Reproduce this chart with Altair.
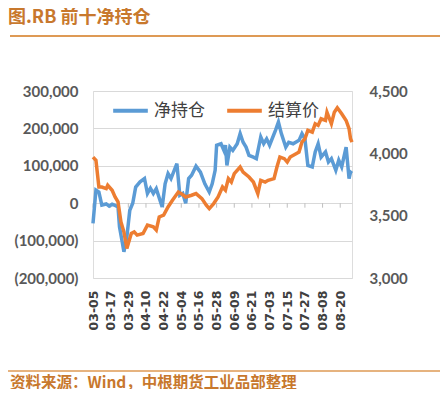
import altair as alt
import pandas as pd

# ---- data ----
net_dates = ["03-05","03-07","03-09","03-11","03-14","03-16","03-18","03-20","03-22","03-23",
             "03-25","03-26","03-28","03-30","04-01","04-03","04-06","04-09","04-11","04-13",
             "04-15","04-17","04-21","04-23","04-25","04-27","05-01","05-03","05-05","05-07",
             "05-09","05-11","05-14","05-17","05-20","05-23","05-25","05-27","05-28","05-31",
             "06-02","06-03","06-04","06-06","06-08","06-11","06-13","06-15","06-17","06-19",
             "06-22","06-24","06-27","06-29","07-01","07-03","07-07","07-09","07-11","07-14",
             "07-16","07-19","07-23","07-25","07-27","07-29","08-01","08-03","08-05","08-07",
             "08-10","08-12","08-14","08-17","08-19","08-21","08-24","08-26","08-27","08-28"]
net_values = [-54000,35000,30000,-5000,-2000,-8000,-3000,-6000,-10000,-63000,
              -107000,-130000,-90000,-19000,0,43000,57000,66000,26000,40000,
              26000,39000,-10000,52000,79000,66000,106000,21000,26000,0,
              66000,75000,99000,83000,52000,30000,52000,88000,155000,159000,
              141000,155000,101000,150000,141000,159000,186000,163000,150000,128000,
              123000,119000,177000,159000,172000,155000,195000,217000,186000,150000,
              163000,159000,168000,186000,172000,101000,97000,137000,159000,123000,
              137000,110000,119000,88000,115000,97000,150000,66000,83000,80000]

price_dates = ["03-05","03-07","03-09","03-11","03-14","03-15","03-18","03-20","03-22","03-24",
               "03-26","03-28","03-29","03-31","04-02","04-04","04-08","04-11","04-15","04-17",
               "04-19","04-22","04-25","04-28","05-02","05-04","05-07","05-11","05-14","05-18",
               "05-21","05-23","05-26","05-29","06-01","06-03","06-05","06-07","06-09","06-13",
               "06-15","06-19","06-22","06-25","06-27","06-30","07-02","07-06","07-08","07-10",
               "07-13","07-15","07-17","07-21","07-23","07-25","07-27","07-29","08-01","08-03",
               "08-05","08-07","08-10","08-11","08-14","08-16","08-18","08-21","08-24","08-26",
               "08-27","08-28"]
price_values = [3970,3944,3730,3730,3717,3744,3704,3650,3610,3450,
                3370,3237,3277,3357,3370,3344,3357,3424,3410,3384,
                3490,3504,3570,3624,3690,3677,3650,3664,3677,3637,
                3584,3557,3597,3650,3730,3704,3797,3770,3837,3890,
                3850,3810,3770,3677,3784,3770,3784,3797,3890,3970,
                3957,3930,3970,3997,4010,4090,4117,4184,4170,4237,
                4224,4277,4264,4330,4237,4330,4365,4317,4264,4197,
                4117,4090]

tick_labels = ["03-05","03-17","03-29","04-10","04-22","05-04","05-16","05-28",
               "06-09","06-21","07-03","07-15","07-27","08-08","08-20"]
left_ticks = [-200000, -100000, 0, 100000, 200000, 300000]
right_ticks = [3000, 3500, 4000, 4500]
series_names = ["净持仓", "结算价"]
series_colors = ["#5B9BD5", "#ED7D31"]
year = "2018"

def ms(d):
    return int(pd.Timestamp(f"{year}-{d}").value // 10**6)

df_net = pd.DataFrame({"date": [f"{year}-{d}" for d in net_dates], "value": net_values,
                       "series": series_names[0]})
df_price = pd.DataFrame({"date": [f"{year}-{d}" for d in price_dates], "value": price_values,
                         "series": series_names[1]})
df_ticks = pd.DataFrame({"date": [f"{year}-{d}" for d in tick_labels], "value": 0,
                         "low": -12000})
df_one = pd.DataFrame({"k": [0]})

x_enc = alt.X("date:T",
              scale=alt.Scale(type="utc", domain=[ms(net_dates[0]), ms(net_dates[-1])]),
              axis=alt.Axis(values=[ms(d) for d in tick_labels], format="%m-%d",
                            labelAngle=-90, ticks=False, domain=False, grid=False,
                            labelFont="DejaVu Sans", labelFontSize=12.5, labelFontWeight="bold",
                            labelColor="#404040", labelPadding=12, title=None,
                            labelOverlap=False))

y_left = alt.Y("value:Q",
               scale=alt.Scale(domain=[-200000, 300000], nice=False, zero=False),
               axis=alt.Axis(values=left_ticks,
                             labelExpr="datum.value < 0 ? '(' + format(-datum.value, ',') + ')' : format(datum.value, ',')",
                             grid=True, gridColor="#D9D9D9", gridWidth=1, ticks=False, domain=False,
                             labelPadding=15, title=None, labelFont="Lato", labelFontSize=15,
                             labelFontWeight="bold", labelColor="#595959"))

y_right = alt.Y("value:Q",
                scale=alt.Scale(domain=[3000, 4500], nice=False, zero=False),
                axis=alt.Axis(orient="right", values=right_ticks,
                              labelExpr="format(datum.value, ',')",
                              grid=False, ticks=False, domain=False, labelPadding=17,
                              title=None, labelFont="Lato", labelFontSize=15,
                              labelFontWeight="bold", labelColor="#595959"))

color_enc = alt.Color("series:N",
                      scale=alt.Scale(domain=series_names, range=series_colors),
                      legend=alt.Legend(orient="none", legendX=18, legendY=0,
                                        direction="horizontal", title=None,
                                        symbolType="stroke", symbolStrokeWidth=4,
                                        symbolSize=1200, labelFontSize=17,
                                        labelFont="Noto Sans CJK SC", labelColor="#404040",
                                        columnPadding=14, labelOffset=4, padding=0))

ticks = alt.Chart(df_ticks).mark_rule(color="#BFBFBF", strokeWidth=1).encode(
    x=x_enc, y=y_left, y2="low:Q")
net = alt.Chart(df_net).mark_line(strokeWidth=3.5).encode(x=x_enc, y=y_left, color=color_enc)
price = alt.Chart(df_price).mark_line(strokeWidth=3.5).encode(x=x_enc, y=y_right, color=color_enc)

title = alt.Chart(df_one).mark_text(text="图.RB 前十净持仓", align="left", baseline="middle",
                                     font="Noto Sans CJK SC", fontSize=18, fontWeight="bold",
                                     color="#C8782D").encode(x=alt.value(-85), y=alt.value(-73))
rule_top = alt.Chart(df_one).mark_rule(color="#DE9A55", strokeWidth=2).encode(
    x=alt.value(-83), x2=alt.value(347), y=alt.value(-55))
rule_bottom = alt.Chart(df_one).mark_rule(color="#DE9A55", strokeWidth=1.5).encode(
    x=alt.value(-90), x2=alt.value(355), y=alt.value(280))
footer = alt.Chart(df_one).mark_text(text="资料来源：Wind，中根期货工业品部整理", align="left",
                                      baseline="middle", font="Noto Sans CJK SC", fontSize=15.5,
                                      fontWeight="bold", color="#C8782D").encode(
    x=alt.value(-83), y=alt.value(292))

chart = alt.layer(
    alt.layer(ticks, net), price, title, rule_top, rule_bottom, footer
).resolve_scale(y="independent").properties(
    width=259, height=187, autosize="none",
    padding={"left": 85, "top": 83, "right": 88, "bottom": 111}
).configure_view(stroke=None).configure(background="white")

chart.save("out.html", embed_options={"renderer": "svg", "actions": False})
